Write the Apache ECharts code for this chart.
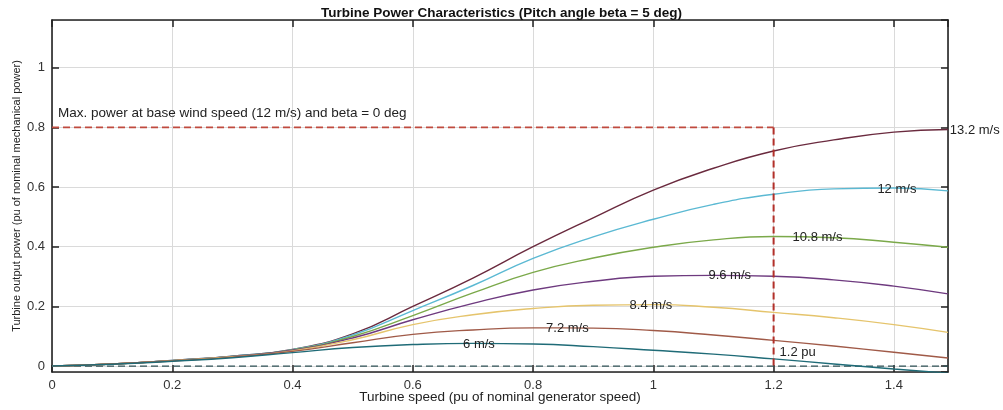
<!DOCTYPE html>
<html>
<head>
<meta charset="utf-8">
<script src="https://cdn.jsdelivr.net/npm/echarts@6/dist/echarts.min.js"></script>
<style>
html,body{margin:0;padding:0;background:#fff;}
#chart{width:1003px;height:410px;}
</style>
</head>
<body>
<div id="chart"></div>
<script>
// Turbine speed samples (pu)
const speeds = [0, 0.1, 0.2, 0.3, 0.4, 0.5, 0.6, 0.7, 0.8, 0.9, 1.0, 1.1, 1.2, 1.3, 1.4, 1.49];
// Output power (pu) per wind speed
const p132 = [0, 0.007, 0.019, 0.033, 0.056, 0.108, 0.200, 0.295, 0.400, 0.497, 0.590, 0.663, 0.721, 0.758, 0.784, 0.793];
const p120 = [0, 0.007, 0.019, 0.033, 0.055, 0.104, 0.186, 0.270, 0.361, 0.433, 0.492, 0.542, 0.576, 0.594, 0.597, 0.587];
const p108 = [0, 0.007, 0.018, 0.032, 0.054, 0.099, 0.169, 0.245, 0.314, 0.362, 0.398, 0.423, 0.434, 0.430, 0.415, 0.398];
const p096 = [0, 0.007, 0.018, 0.032, 0.053, 0.094, 0.155, 0.210, 0.255, 0.284, 0.301, 0.304, 0.301, 0.289, 0.268, 0.242];
const p084 = [0, 0.007, 0.018, 0.031, 0.051, 0.088, 0.139, 0.172, 0.193, 0.204, 0.206, 0.197, 0.180, 0.162, 0.139, 0.113];
const p072 = [0, 0.007, 0.017, 0.030, 0.049, 0.078, 0.106, 0.121, 0.128, 0.127, 0.119, 0.104, 0.086, 0.067, 0.046, 0.027];
const p060 = [0, 0.006, 0.016, 0.028, 0.045, 0.062, 0.072, 0.076, 0.074, 0.065, 0.053, 0.040, 0.024, 0.007, -0.010, -0.024];
const windNames = ['13.2 m/s', '12 m/s', '10.8 m/s', '9.6 m/s', '8.4 m/s', '7.2 m/s', '6 m/s'];
// Reference lines
const maxPowerLine = [[0, 0.8], [1.2, 0.8]];
const baseSpeedLine = [[1.2, 0.8], [1.2, 0]];
const zeroLine = [[0, 0], [1.49, 0]];
// Axis ranges / ticks
const xRange = [0, 1.49];
const yRange = [-0.02, 1.16];
const tickStep = 0.2;

// Text annotations (data coordinates)
const annotations = [
  {text: '13.2 m/s', x: 1.493, y: 0.789, align: 'left'},
  {text: '12 m/s', x: 1.405, y: 0.592, align: 'center'},
  {text: '10.8 m/s', x: 1.273, y: 0.431, align: 'center'},
  {text: '9.6 m/s', x: 1.127, y: 0.303, align: 'center'},
  {text: '8.4 m/s', x: 0.996, y: 0.203, align: 'center'},
  {text: '7.2 m/s', x: 0.857, y: 0.126, align: 'center'},
  {text: '6 m/s', x: 0.710, y: 0.072, align: 'center'},
  {text: '1.2 pu', x: 1.210, y: 0.045, align: 'left'},
  {text: 'Max. power at base wind speed (12 m/s) and beta = 0 deg', x: 0.010, y: 0.846, align: 'left', size: 13.5}
];

const colors = ['#6A2A3E', '#5BB9D3', '#7BA94A', '#6E3A7F', '#E5C46C', '#A05A48', '#1F6B77'];
const allPower = [p132, p120, p108, p096, p084, p072, p060];

const FONT = '"Liberation Sans", Arial, Helvetica, sans-serif';
const axisColor = '#222';
const gridColor = '#dadada';

const chart = echarts.init(document.getElementById('chart'), null, {renderer: 'canvas'});

const curveSeries = allPower.map((arr, k) => ({
  name: windNames[k],
  type: 'line',
  data: speeds.map((s, i) => [s, arr[i]]),
  smooth: 0.5,
  showSymbol: false,
  symbol: 'none',
  clip: true,
  lineStyle: {color: colors[k], width: 1.4},
  z: 3
}));

const refStyle = (color, w) => ({color: color, width: w, type: [7, 4]});

const option = {
  animation: false,
  backgroundColor: '#fff',
  title: {
    text: 'Turbine Power Characteristics (Pitch angle beta = 5 deg)',
    left: 'center',
    top: 1,
    textStyle: {fontFamily: FONT, fontSize: 13.5, fontWeight: 'bold', color: '#111'}
  },
  grid: {left: 52, right: 55, top: 20, bottom: 38, containLabel: false, outerBoundsMode: 'none'},
  xAxis: [
    {
      type: 'value', min: xRange[0], max: xRange[1], interval: tickStep,
      position: 'bottom',
      name: 'Turbine speed (pu of nominal generator speed)',
      nameLocation: 'middle', nameGap: 18, nameMoveOverlap: false,
      nameTextStyle: {fontFamily: FONT, fontSize: 13.5, color: '#222'},
      axisLine: {show: true, onZero: false, lineStyle: {color: axisColor, width: 1.6}},
      axisTick: {show: true, inside: true, length: 7, lineStyle: {color: axisColor, width: 1.5}},
      axisLabel: {fontFamily: FONT, fontSize: 13, color: '#333', margin: 7, showMaxLabel: false},
      splitLine: {show: true, lineStyle: {color: gridColor, width: 1}}
    },
    {
      type: 'value', min: xRange[0], max: xRange[1], interval: tickStep,
      position: 'top',
      axisLine: {show: true, onZero: false, lineStyle: {color: axisColor, width: 1.6}},
      axisTick: {show: true, inside: true, length: 7, lineStyle: {color: axisColor, width: 1.5}},
      axisLabel: {show: false},
      splitLine: {show: false}
    }
  ],
  yAxis: [
    {
      type: 'value', min: yRange[0], max: yRange[1], minInterval: tickStep, maxInterval: tickStep,
      position: 'left',
      axisLine: {show: true, onZero: false, lineStyle: {color: axisColor, width: 1.6}},
      axisTick: {show: true, inside: true, length: 7, lineStyle: {color: axisColor, width: 1.5}},
      axisLabel: {fontFamily: FONT, fontSize: 13, color: '#333', margin: 7, showMinLabel: false, showMaxLabel: false},
      splitLine: {show: true, lineStyle: {color: gridColor, width: 1}}
    },
    {
      type: 'value', min: yRange[0], max: yRange[1], minInterval: tickStep, maxInterval: tickStep,
      position: 'right',
      axisLine: {show: true, onZero: false, lineStyle: {color: axisColor, width: 1.6}},
      axisTick: {show: true, inside: true, length: 7, lineStyle: {color: axisColor, width: 1.5}},
      axisLabel: {show: false},
      splitLine: {show: false}
    }
  ],
  series: [
    {
      name: 'zero', type: 'line', data: zeroLine, symbol: 'none', silent: true,
      lineStyle: refStyle('#2F5156', 1.3), z: 2
    }
  ].concat(curveSeries).concat([
    {
      name: 'maxPower', type: 'line', data: maxPowerLine, symbol: 'none', silent: true,
      lineStyle: refStyle('#C04A3E', 1.6), z: 4
    },
    {
      name: 'baseSpeed', type: 'line', data: baseSpeedLine, symbol: 'none', silent: true,
      lineStyle: refStyle('#B2302A', 2), z: 4
    }
  ])
};

chart.setOption(option);

const graphics = annotations.map(a => {
  const p = chart.convertToPixel({gridIndex: 0}, [a.x, a.y]);
  return {
    type: 'text',
    x: p[0], y: p[1],
    z: 10,
    style: {
      text: a.text,
      fill: '#222',
      font: (a.size || 13) + 'px ' + FONT,
      textAlign: a.align,
      textVerticalAlign: 'middle'
    }
  };
});
// Y axis title (rotated)
const gridRect = chart.getModel().getComponent('grid', 0).coordinateSystem.getRect();
graphics.push({
  type: 'text',
  x: 17,
  y: gridRect.y + gridRect.height / 2,
  rotation: Math.PI / 2,
  z: 10,
  style: {
    text: 'Turbine output power (pu of nominal mechanical power)',
    fill: '#222',
    font: '11px ' + FONT,
    textAlign: 'center',
    textVerticalAlign: 'middle'
  }
});
chart.setOption({graphic: graphics});
</script>
</body>
</html>
